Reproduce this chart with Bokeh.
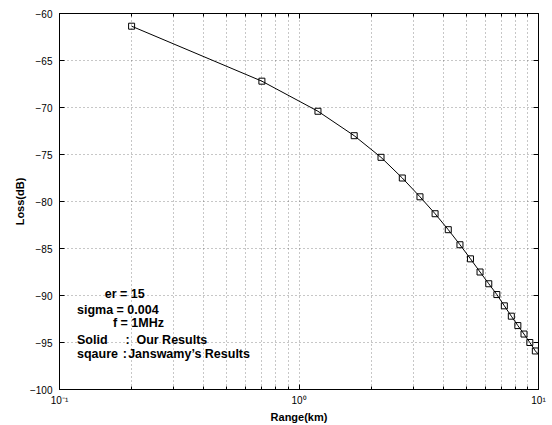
from bokeh.plotting import figure
from bokeh.models import FixedTicker, LinearAxis, LogAxis
from bokeh.core.properties import value
from bokeh.embed import file_html
from bokeh.resources import INLINE

# Data
range_km = [0.2, 0.7, 1.2, 1.7, 2.2, 2.7, 3.2, 3.7, 4.2, 4.7,
            5.2, 5.7, 6.2, 6.7, 7.2, 7.7, 8.2, 8.7, 9.2, 9.7]
loss_sq = [-61.35, -67.2, -70.4, -73.0, -75.3, -77.5, -79.5, -81.3, -83.0, -84.6,
           -86.1, -87.5, -88.75, -89.9, -91.1, -92.2, -93.2, -94.1, -95.0, -95.9]
line_x = range_km + [10.0]
line_y = loss_sq + [-96.25]

x_major = [0.1, 1, 10]
x_minor = [0.2, 0.3, 0.4, 0.5, 0.6, 0.7, 0.8, 0.9, 2, 3, 4, 5, 6, 7, 8, 9]
y_major = [-100, -95, -90, -85, -80, -75, -70, -65, -60]
x_labels = {0.1: "10\u207b\u00b9", 1: "10\u2070", 10: "10\u00b9"}

notes = ["er = 15", "sigma = 0.004", "f = 1MHz", "Solid", ":", "Our Results",
         "sqaure", ":", "Janswamy\u2019s Results"]
notes_x = [0.1545, 0.1183, 0.1672, 0.1183, 0.1885, 0.2095, 0.1183, 0.1838, 0.1935]
notes_y = [-89.81, -91.51, -92.92, -94.69, -94.69, -94.69, -96.18, -96.18, -96.18]

FONT = "Liberation Sans"

p = figure(width=552, height=425, x_axis_type="log",
           x_range=(0.1, 10), y_range=(-100, -60),
           output_backend="svg", toolbar_location=None,
           min_border_left=59, min_border_right=14,
           min_border_top=13, min_border_bottom=35)
p.background_fill_color = "white"
p.border_fill_color = "white"
p.outline_line_color = "black"
p.outline_line_width = 1

xt = FixedTicker(ticks=x_major, minor_ticks=x_minor)
yt = FixedTicker(ticks=y_major, minor_ticks=[])

for ax in p.xaxis:
    ax.ticker = xt
    ax.major_label_overrides = x_labels
for ax in p.yaxis:
    ax.ticker = yt

for ax in p.xaxis + p.yaxis:
    ax.axis_line_color = "black"
    ax.major_tick_in = 5
    ax.major_tick_out = 0
    ax.minor_tick_in = 3
    ax.minor_tick_out = 0
    ax.major_label_text_font = FONT
    ax.major_label_text_font_size = "10px"
    ax.major_label_text_color = "black"
    ax.axis_label_text_font = FONT
    ax.axis_label_text_font_size = "11px"
    ax.axis_label_text_font_style = "bold"
    ax.axis_label_text_color = "black"

p.xaxis.axis_label = "Range(km)"
p.yaxis.axis_label = "Loss(dB)"
p.xaxis.major_label_standoff = 5
p.xaxis.axis_label_standoff = 2
p.yaxis.major_label_standoff = 7
p.yaxis.axis_label_standoff = 1

top = LogAxis(ticker=xt, major_label_text_font_size="1px", major_label_text_alpha=0,
              major_label_standoff=0,
              major_tick_in=5, major_tick_out=0, minor_tick_in=3, minor_tick_out=0,
              axis_line_color="black")
right = LinearAxis(ticker=yt, major_label_text_font_size="1px", major_label_text_alpha=0,
                   major_label_standoff=0,
                   major_tick_in=5, major_tick_out=0, minor_tick_in=0, minor_tick_out=0,
                   axis_line_color="black")
p.add_layout(top, "above")
p.add_layout(right, "right")

p.xgrid.ticker = xt
p.ygrid.ticker = yt
p.xgrid.grid_line_color = "#444444"
p.xgrid.grid_line_dash = "1 3"
p.xgrid.grid_line_alpha = 0.6
p.xgrid.minor_grid_line_color = "#444444"
p.xgrid.minor_grid_line_dash = "1 3"
p.xgrid.minor_grid_line_alpha = 0.6
p.ygrid.grid_line_color = "#444444"
p.ygrid.grid_line_dash = "1 3"
p.ygrid.grid_line_alpha = 0.6

p.line(line_x, line_y, line_color="black", line_width=1)
p.scatter(range_km, loss_sq, marker="square", size=6, fill_color=None,
          line_color="black", line_width=1)

p.text(notes_x, notes_y, text=notes, text_font=value(FONT), text_font_size="12.5px",
       text_font_style="bold", text_color="black", text_baseline="middle",
       text_align="left")

open("out.html", "w").write(file_html(p, INLINE))
